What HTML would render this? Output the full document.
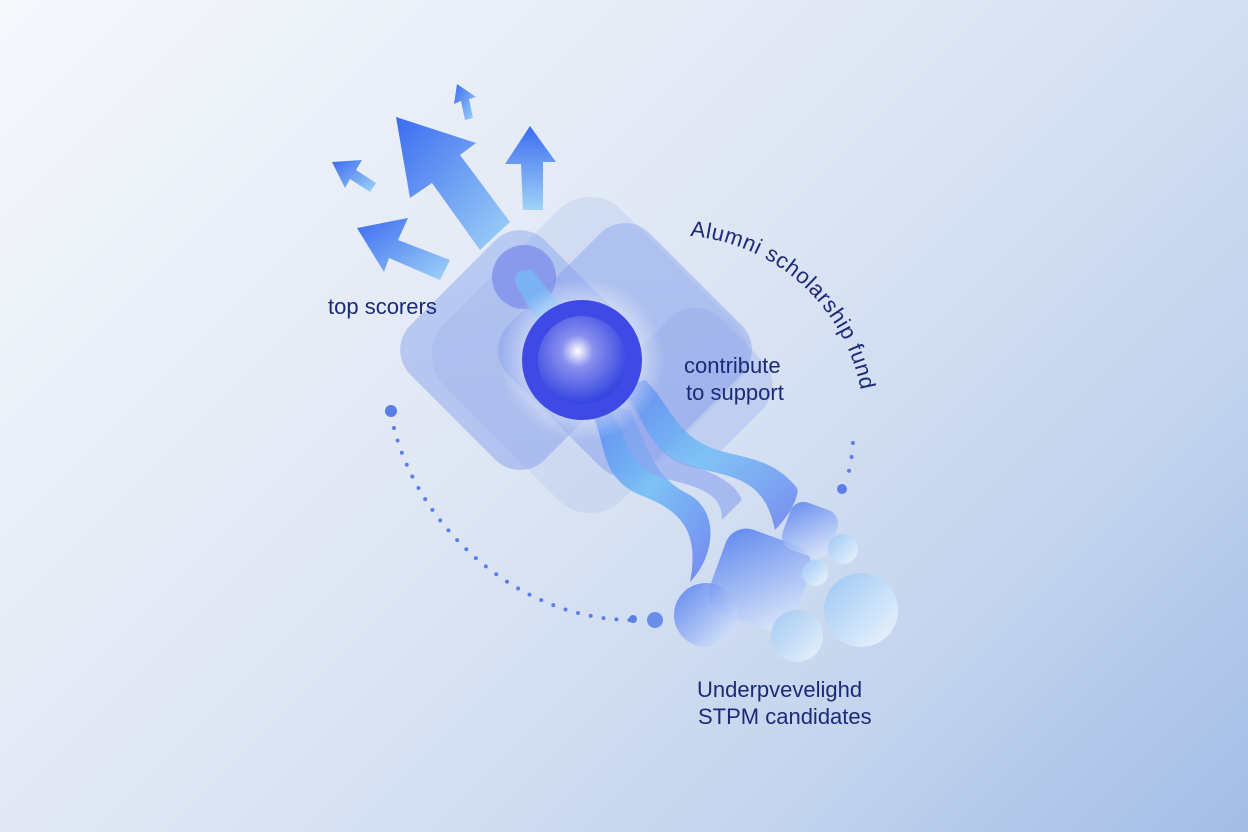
<!DOCTYPE html>
<html><head><meta charset="utf-8"><style>
html,body{margin:0;padding:0;width:1248px;height:832px;overflow:hidden}
body{background:linear-gradient(135deg,#f6f8fc 0%,#dfe7f4 45%,#c5d5ee 75%,#a3bde6 100%)}
text{font-family:"Liberation Sans",sans-serif;fill:#1b2a78}
</style></head><body>
<svg width="1248" height="832" viewBox="0 0 1248 832" xmlns="http://www.w3.org/2000/svg">
<defs>
<linearGradient id="ar" x1="0" y1="0" x2="1" y2="1"><stop offset="0" stop-color="#3d6cf0"/><stop offset="1" stop-color="#9fd3f7"/></linearGradient>
<linearGradient id="ar2" x1="0" y1="0" x2="0" y2="1"><stop offset="0" stop-color="#3d6cf0"/><stop offset="1" stop-color="#9fd3f7"/></linearGradient>
<linearGradient id="sq" x1="0" y1="0" x2="1" y2="1"><stop offset="0" stop-color="#8aa6ee"/><stop offset="1" stop-color="#7f95ea"/></linearGradient>
<radialGradient id="orb" cx="0.45" cy="0.4" r="0.6"><stop offset="0" stop-color="#ffffff"/><stop offset="0.3" stop-color="#8a90ee"/><stop offset="1" stop-color="#3344e0"/></radialGradient>
<radialGradient id="glow"><stop offset="0.5" stop-color="#ffffff" stop-opacity="0.7"/><stop offset="1" stop-color="#ffffff" stop-opacity="0"/></radialGradient>
<linearGradient id="rib" x1="0" y1="0" x2="1" y2="1"><stop offset="0" stop-color="#5a80f0"/><stop offset="0.5" stop-color="#72bff5"/><stop offset="1" stop-color="#6a7ef0"/></linearGradient>
<linearGradient id="bub" x1="0" y1="0" x2="1" y2="1"><stop offset="0" stop-color="#4a78ee"/><stop offset="1" stop-color="#e8f0fb"/></linearGradient>
<linearGradient id="bub2" x1="0" y1="0" x2="1" y2="1"><stop offset="0" stop-color="#9cc7f4"/><stop offset="1" stop-color="#eef5fc"/></linearGradient>
<path id="arc" d="M 690 236 A 190 190 0 0 1 864 430"/>
</defs>
<g fill="url(#ar)">
<polygon points="332,162 362,160 356,170 376,183 370,192 350,179 345,188"/>
<polygon points="457,84 476,97 469,99 473,118 465,120 461,101 454,104"/>
<polygon points="396,117 476,143 460,155 510,222 480,250 432,183 410,198"/>
<polygon points="357,228 408,218 398,240 450,260 440,280 389,258 384,272"/>
</g>
<polygon points="530,126 556,162 543,162 543,210 523,210 521,164 505,164" fill="url(#ar2)"/>
<g opacity="0.35"><rect x="465" y="230" width="250" height="250" rx="45" fill="#b4c6ee" transform="rotate(45 590 355)"/></g>
<g opacity="0.45"><rect x="425" y="255" width="190" height="190" rx="35" fill="url(#sq)" transform="rotate(45 520 350)"/></g>
<g opacity="0.45"><rect x="525" y="250" width="200" height="200" rx="35" fill="url(#sq)" transform="rotate(45 625 350)"/></g>
<g opacity="0.3"><rect x="630" y="320" width="130" height="130" rx="35" fill="#8fa8ec" transform="rotate(45 695 385)"/></g>
<circle cx="524" cy="277" r="32" fill="#7f8fea" opacity="0.8"/>
<path d="M516 285 Q512 268 532 270 L556 300 L572 325 L548 340 Z" fill="#78b6f4" opacity="0.85"/>
<path d="M585 400 C610 440 595 475 640 495 C680 510 700 530 690 582 C712 560 722 515 690 495 C650 475 648 445 630 410 Z" fill="url(#rib)" opacity="0.9"/>
<path d="M612 390 C650 410 640 455 695 468 C745 478 765 485 775 530 C790 515 800 495 797 488 C775 460 745 458 725 452 C675 440 672 405 645 380 Z" fill="url(#rib)" opacity="0.85"/>
<path d="M600 400 C630 425 620 465 662 478 C705 488 722 495 722 520 L742 500 C735 480 705 470 685 463 C650 452 645 420 628 395 Z" fill="#8fa4ee" opacity="0.65"/>
<circle cx="582" cy="360" r="82" fill="url(#glow)"/>
<circle cx="582" cy="360" r="60" fill="#3f4ae6"/>
<circle cx="582" cy="360" r="44" fill="url(#orb)"/>
<rect x="715" y="535" width="90" height="90" rx="22" fill="url(#bub)" opacity="0.85" transform="rotate(20 760 580)"/>
<rect x="785" y="505" width="50" height="50" rx="14" fill="url(#bub)" opacity="0.8" transform="rotate(20 810 530)"/>
<circle cx="706" cy="615" r="32" fill="url(#bub)" opacity="0.85"/>
<circle cx="797" cy="636" r="26" fill="url(#bub2)" opacity="0.9"/>
<circle cx="861" cy="610" r="37" fill="url(#bub2)"/>
<circle cx="843" cy="549" r="15" fill="url(#bub2)"/>
<circle cx="815" cy="573" r="13" fill="url(#bub2)"/>
<circle cx="391" cy="411" r="6" fill="#5b7ee8"/>
<path d="M394 428 C420 530 520 620 632 620" fill="none" stroke="#5b7ee8" stroke-width="4" stroke-linecap="round" stroke-dasharray="0 13"/>
<circle cx="633" cy="619" r="4" fill="#5b7ee8"/>
<circle cx="655" cy="620" r="8" fill="#5b7ee8" opacity="0.85"/>
<path d="M853 443 Q852 460 848 475" fill="none" stroke="#5b7ee8" stroke-width="4" stroke-linecap="round" stroke-dasharray="0 14"/>
<circle cx="842" cy="489" r="5" fill="#5b7ee8"/>
<text x="328" y="314" font-size="22">top scorers</text>
<text x="684" y="373" font-size="22">contribute</text>
<text x="686" y="400" font-size="22">to support</text>
<text font-size="22" letter-spacing="0.6"><textPath href="#arc">Alumni scholarship fund</textPath></text>
<text x="697" y="697" font-size="22">Underpvevelighd</text>
<text x="698" y="724" font-size="22">STPM candidates</text>
</svg>
</body></html>
